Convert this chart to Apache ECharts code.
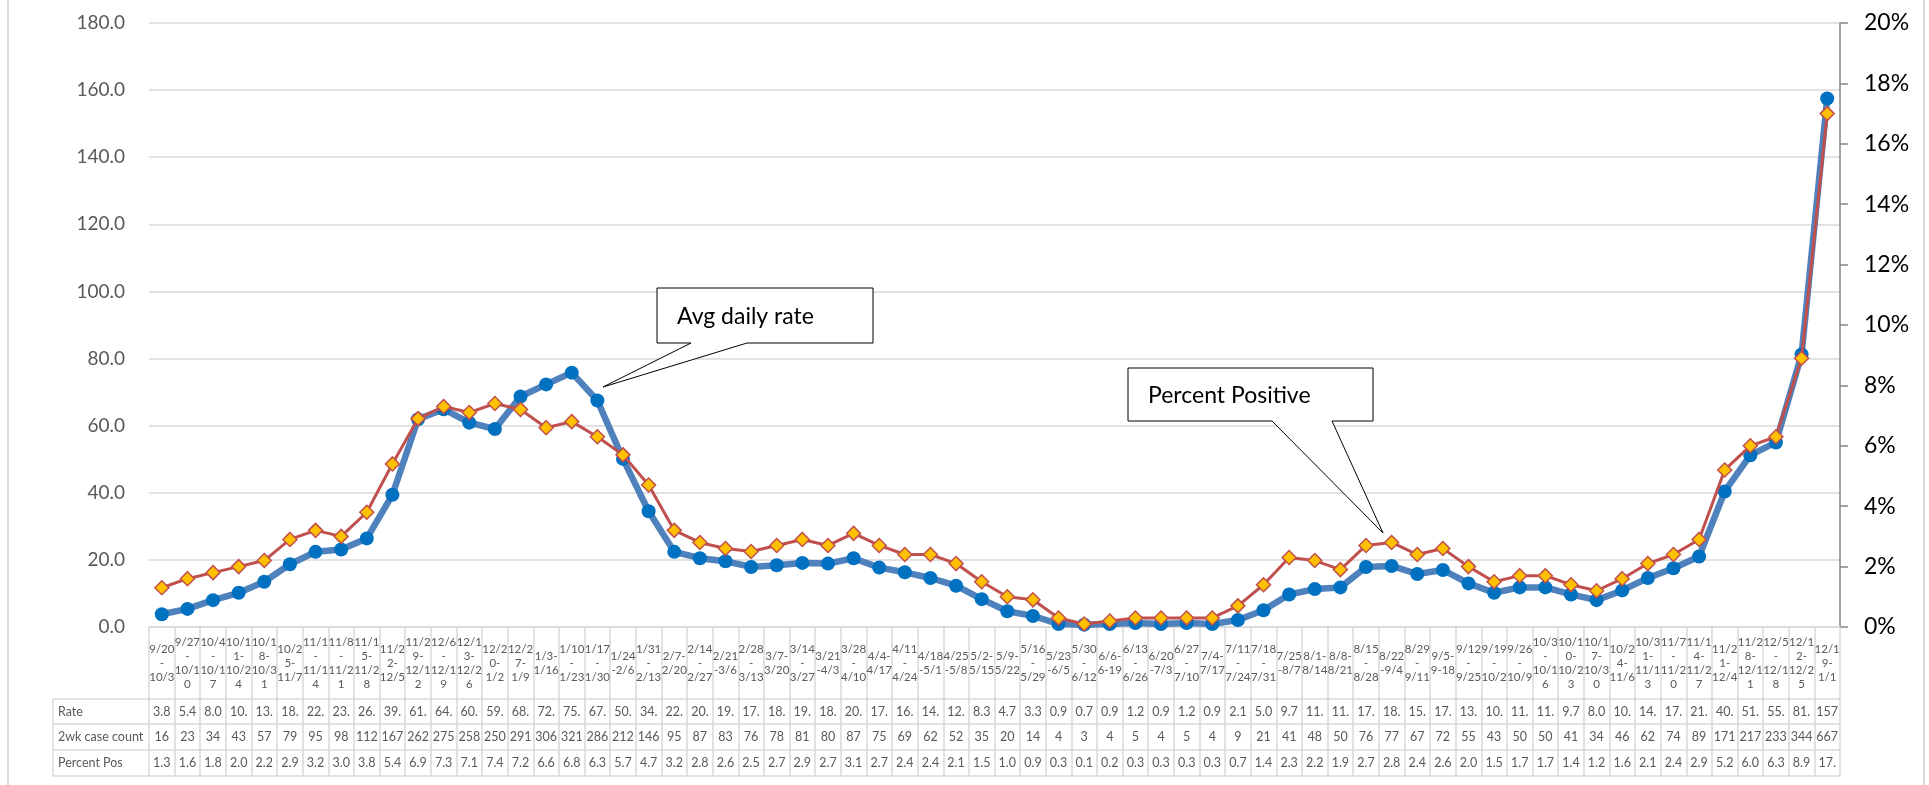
<!DOCTYPE html>
<html>
<head>
<meta charset="utf-8">
<script src="https://cdn.jsdelivr.net/npm/echarts@6/dist/echarts.min.js"></script>
<style>
  html, body { margin: 0; padding: 0; background: #fff; }
  #chart { width: 1929px; height: 785px; }
</style>
</head>
<body>
<div id="chart"></div>
<script>
// two-week windows, wrapped the way the table cells show them
const weeks = [
  '9/20\n-\n10/3', '9/27\n-\n10/1\n0', '10/4\n-\n10/1\n7', '10/1\n1-\n10/2\n4', '10/1\n8-\n10/3\n1',
  '10/2\n5-\n11/7', '11/1\n-\n11/1\n4', '11/8\n-\n11/2\n1', '11/1\n5-\n11/2\n8', '11/2\n2-\n12/5',
  '11/2\n9-\n12/1\n2', '12/6\n-\n12/1\n9', '12/1\n3-\n12/2\n6', '12/2\n0-\n1/2', '12/2\n7-\n1/9',
  '1/3-\n1/16', '1/10\n-\n1/23', '1/17\n-\n1/30', '1/24\n-2/6', '1/31\n-\n2/13',
  '2/7-\n2/20', '2/14\n-\n2/27', '2/21\n-3/6', '2/28\n-\n3/13', '3/7-\n3/20',
  '3/14\n-\n3/27', '3/21\n-4/3', '3/28\n-\n4/10', '4/4-\n4/17', '4/11\n-\n4/24',
  '4/18\n-5/1', '4/25\n-5/8', '5/2-\n5/15', '5/9-\n5/22', '5/16\n-\n5/29',
  '5/23\n-6/5', '5/30\n-\n6/12', '6/6-\n6-19', '6/13\n-\n6/26', '6/20\n-7/3',
  '6/27\n-\n7/10', '7/4-\n7/17', '7/11\n-\n7/24', '7/18\n-\n7/31', '7/25\n-8/7',
  '8/1-\n8/14', '8/8-\n8/21', '8/15\n-\n8/28', '8/22\n-9/4', '8/29\n-\n9/11',
  '9/5-\n9-18', '9/12\n-\n9/25', '9/19\n-\n10/2', '9/26\n-\n10/9', '10/3\n-\n10/1\n6',
  '10/1\n0-\n10/2\n3', '10/1\n7-\n10/3\n0', '10/2\n4-\n11/6', '10/3\n1-\n11/1\n3', '11/7\n-\n11/2\n0',
  '11/1\n4-\n11/2\n7', '11/2\n1-\n12/4', '11/2\n8-\n12/1\n1', '12/5\n-\n12/1\n8', '12/1\n2-\n12/2\n5',
  '12/1\n9-\n1/1'
]

const rate = [
  3.8, 5.4, 8.0, 10.2, 13.5, 18.7, 22.4, 23.1, 26.4, 39.4,
  61.9, 64.9, 60.9, 59.0, 68.7, 72.3, 75.8, 67.5, 50.1, 34.5,
  22.4, 20.5, 19.6, 17.9, 18.4, 19.1, 18.9, 20.5, 17.7, 16.3,
  14.6, 12.3, 8.3, 4.7, 3.3, 0.9, 0.7, 0.9, 1.2, 0.9,
  1.2, 0.9, 2.1, 5.0, 9.7, 11.3, 11.8, 17.9, 18.2, 15.8,
  17.0, 13.0, 10.2, 11.8, 11.8, 9.7, 8.0, 10.9, 14.6, 17.5,
  21.0, 40.4, 51.2, 55.0, 81.2, 157.5
]

const caseCount = [
  16, 23, 34, 43, 57, 79, 95, 98, 112, 167,
  262, 275, 258, 250, 291, 306, 321, 286, 212, 146,
  95, 87, 83, 76, 78, 81, 80, 87, 75, 69,
  62, 52, 35, 20, 14, 4, 3, 4, 5, 4,
  5, 4, 9, 21, 41, 48, 50, 76, 77, 67,
  72, 55, 43, 50, 50, 41, 34, 46, 62, 74,
  89, 171, 217, 233, 344, 667
]

const pctPos = [
  1.3, 1.6, 1.8, 2.0, 2.2, 2.9, 3.2, 3.0, 3.8, 5.4,
  6.9, 7.3, 7.1, 7.4, 7.2, 6.6, 6.8, 6.3, 5.7, 4.7,
  3.2, 2.8, 2.6, 2.5, 2.7, 2.9, 2.7, 3.1, 2.7, 2.4,
  2.4, 2.1, 1.5, 1.0, 0.9, 0.3, 0.1, 0.2, 0.3, 0.3,
  0.3, 0.3, 0.7, 1.4, 2.3, 2.2, 1.9, 2.7, 2.8, 2.4,
  2.6, 2.0, 1.5, 1.7, 1.7, 1.4, 1.2, 1.6, 2.1, 2.4,
  2.9, 5.2, 6.0, 6.3, 8.9, 17.0
]

const rowNames = ['Rate', '2wk case count', 'Percent Pos']

// narrow cells cut the numbers to three characters
const cell = v => v.toFixed(1).slice(0, 3)

const FONT = 'Lato, "Open Sans", sans-serif'
const GRID_L = 149, GRID_R = 1840, GRID_T = 23, GRID_B = 627
const ROWS = [699, 724, 750, 776]
const LINE = '#d9d9d9'

function rowAxis(data, top, bottom) {
  return {
    type: 'category',
    data: data,
    position: 'bottom',
    gridIndex: 0,
    axisLine: { show: false },
    axisTick: { show: false },
    splitLine: { show: false },
    axisLabel: {
      interval: 0,
      margin: (top + bottom) / 2 - GRID_B,
      verticalAlign: 'middle',
      fontFamily: FONT,
      fontSize: 12.5,
      color: '#595959'
    }
  }
}

const myChart = echarts.init(document.getElementById('chart'))

const tableLines = ROWS.map(y => ({
  type: 'line',
  shape: { x1: 53, y1: y, x2: GRID_R, y2: y },
  style: { stroke: LINE, lineWidth: 1.5 }
}))

const rowLabels = rowNames.map((name, i) => ({
  type: 'text',
  x: 58,
  y: (ROWS[i] + ROWS[i + 1]) / 2,
  style: { text: name, fontFamily: FONT, fontSize: 12.5, fill: '#595959', verticalAlign: 'middle' }
}))

function callout(points, text, tx, ty) {
  return [
    {
      type: 'polygon',
      shape: { points: points },
      style: { fill: '#fff', stroke: '#000', lineWidth: 1 },
      z: 100
    },
    {
      type: 'text',
      x: tx,
      y: ty,
      style: { text: text, fontFamily: FONT, fontSize: 23, fill: '#000', verticalAlign: 'middle' },
      z: 101
    }
  ]
}

myChart.setOption({
  animation: false,
  backgroundColor: '#fff',
  grid: {
    left: GRID_L,
    right: 1929 - GRID_R,
    top: GRID_T,
    bottom: 785 - GRID_B
  },
  xAxis: [
    {
      type: 'category',
      data: weeks,
      boundaryGap: true,
      axisLine: { lineStyle: { color: LINE, width: 1.5 } },
      axisTick: {
        show: true,
        interval: 0,
        length: ROWS[3] - GRID_B,
        lineStyle: { color: LINE, width: 1.5 }
      },
      axisLabel: {
        interval: 0,
        margin: (ROWS[0] - GRID_B) / 2,
        verticalAlign: 'middle',
        lineHeight: 14,
        fontFamily: FONT,
        fontSize: 11.5,
        color: '#595959'
      }
    },
    rowAxis(rate.map(cell), ROWS[0], ROWS[1]),
    rowAxis(caseCount.map(String), ROWS[1], ROWS[2]),
    rowAxis(pctPos.map(cell), ROWS[2], ROWS[3])
  ],
  yAxis: [
    {
      type: 'value',
      min: 0,
      max: 180,
      interval: 20,
      axisLine: { show: false },
      axisTick: { show: false },
      splitLine: { lineStyle: { color: LINE, width: 1.5 } },
      axisLabel: {
        margin: 24,
        formatter: v => v.toFixed(1),
        fontFamily: FONT,
        fontSize: 19,
        color: '#595959'
      }
    },
    {
      type: 'value',
      position: 'right',
      min: 0,
      max: 20,
      interval: 2,
      axisLine: { show: true, lineStyle: { color: '#868686', width: 1.5 } },
      axisTick: { show: true, length: 8, lineStyle: { color: '#868686', width: 1.5 } },
      splitLine: { show: false },
      axisLabel: {
        margin: 24,
        formatter: '{value}%',
        fontFamily: FONT,
        fontSize: 23,
        color: '#000'
      }
    }
  ],
  series: [
    {
      name: 'Rate',
      type: 'line',
      data: rate,
      xAxisIndex: 0,
      yAxisIndex: 0,
      symbol: 'circle',
      symbolSize: 14,
      itemStyle: { color: '#0070C0' },
      lineStyle: { color: '#4F81BD', width: 6.5 },
      z: 3
    },
    {
      name: 'Percent Pos',
      type: 'line',
      data: pctPos,
      xAxisIndex: 0,
      yAxisIndex: 1,
      symbol: 'diamond',
      symbolSize: 14,
      itemStyle: { color: '#FFC000', borderColor: '#C0504D', borderWidth: 1.5 },
      lineStyle: { color: '#C0504D', width: 3 },
      z: 4
    }
  ],
  graphic: [
    { type: 'line', shape: { x1: 8, y1: 0, x2: 8, y2: 785 }, style: { stroke: LINE, lineWidth: 2 } },
    { type: 'line', shape: { x1: 1924, y1: 0, x2: 1924, y2: 785 }, style: { stroke: LINE, lineWidth: 2 } },
    { type: 'line', shape: { x1: 53, y1: ROWS[0], x2: 53, y2: ROWS[3] }, style: { stroke: LINE, lineWidth: 1.5 } },
    ...tableLines,
    ...rowLabels,
    ...callout([[657, 288], [873, 288], [873, 343], [747, 343], [603, 387], [691, 343], [657, 343]],
      'Avg daily rate', 677, 317),
    ...callout([[1128, 368], [1373, 368], [1373, 421], [1332, 421], [1383, 533], [1272, 421], [1128, 421]],
      'Percent Positive', 1148, 396)
  ]
})
</script>
</body>
</html>
